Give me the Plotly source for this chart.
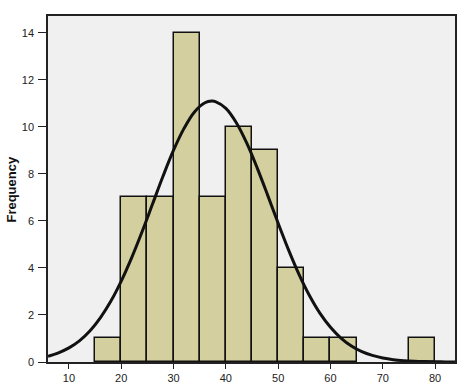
import plotly.graph_objects as go

# Histogram bins (left edge, width 5) and counts
bin_left = [15, 20, 25, 30, 35, 40, 45, 50, 55, 60, 75]
counts = [1, 7, 7, 14, 7, 10, 9, 4, 1, 1, 1]

# Normal curve points
curve_x = [6, 8, 10, 12, 14, 16, 18, 20, 22, 24, 26, 28, 30, 32, 34, 36, 37.3, 38, 40, 42, 44, 46, 48,
           50, 52, 54, 56, 58, 60, 62, 64, 66, 68, 70, 72, 74, 76, 78, 80, 82, 84]
curve_y = [0.24, 0.39, 0.60, 0.90, 1.32, 1.88, 2.58, 3.44, 4.44, 5.55, 6.73, 7.91, 9.01, 9.94, 10.64,
           11.03, 11.10, 11.08, 10.79, 10.18, 9.31, 8.25, 7.09, 5.90, 4.76, 3.72, 2.82, 2.07, 1.48,
           1.02, 0.68, 0.44, 0.28, 0.17, 0.10, 0.057, 0.032, 0.017, 0.009, 0.004, 0.002]

x_ticks = [10, 20, 30, 40, 50, 60, 70, 80]
y_ticks = [0, 2, 4, 6, 8, 10, 12, 14]

fig = go.Figure()
fig.add_trace(go.Bar(
    x=bin_left, y=counts, width=5, offset=0,
    marker=dict(color="#D4CF9F", line=dict(color="#111111", width=1.5)),
    hoverinfo="skip",
))
fig.add_trace(go.Scatter(
    x=curve_x, y=curve_y, mode="lines",
    line=dict(color="#111111", width=3, shape="spline"),
    hoverinfo="skip",
))

fig.update_layout(
    width=465, height=383,
    margin=dict(l=48, r=10, t=16, b=21),
    paper_bgcolor="white",
    plot_bgcolor="#F0F0F0",
    showlegend=False,
    bargap=0,
    font=dict(family="Liberation Sans, Arial, sans-serif", size=11, color="#222222"),
)
fig.update_xaxes(
    range=[6, 83.8], tickvals=x_ticks, ticks="outside", ticklen=5, tickcolor="#222222",
    showgrid=False, zeroline=False, showline=True, linecolor="#222222", linewidth=1.5,
    mirror=True, automargin=False,
)
fig.update_yaxes(
    range=[0, 14.72], tickvals=y_ticks, ticks="outside", ticklen=8, tickcolor="#222222",
    showgrid=False, zeroline=False, showline=True, linecolor="#222222", linewidth=1.5,
    mirror=True, automargin=False, ticklabelstandoff=2,
)
fig.add_annotation(
    text="<b>Frequency</b>", xref="paper", yref="paper", x=-0.092, y=0.5,
    xanchor="center", yanchor="middle", textangle=-90, showarrow=False,
    font=dict(size=13, color="#111111"),
)

# remove the default 8px page margin so the figure fills the window exactly
fig.write_html(
    "out.html",
    config={"displayModeBar": False},
    post_script="document.body.style.margin='0';document.body.style.overflow='hidden';",
)
